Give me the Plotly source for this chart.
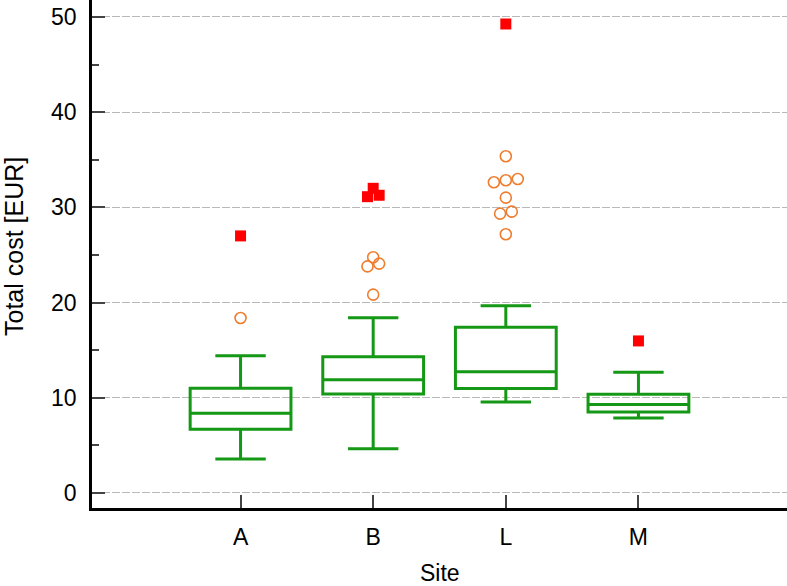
import plotly.graph_objects as go

sites = ["A", "B", "L", "M"]
q1 = [6.7, 10.4, 10.96, 8.51]
median = [8.37, 11.9, 12.74, 9.28]
q3 = [11.0, 14.32, 17.4, 10.36]
lower_whisker = [3.57, 4.65, 9.56, 7.88]
upper_whisker = [14.42, 18.41, 19.67, 12.68]

# outliers (orange open circles): site index, horizontal jitter, value
out_site = [0, 1, 1, 1, 1, 2, 2, 2, 2, 2, 2, 2, 2]
out_jitter = [0, 0, -0.043, 0.045, 0, 0, -0.09, 0, 0.09, 0, -0.043, 0.045, 0]
out_value = [18.38, 24.76, 23.8, 24.09, 20.83, 35.37, 32.64, 32.85, 32.98, 31.02, 29.34, 29.55, 27.17]

# far outliers (red squares)
far_site = [0, 1, 1, 1, 2, 3]
far_jitter = [0, 0, -0.043, 0.045, 0, 0]
far_value = [27.0, 32.0, 31.12, 31.27, 49.26, 15.97]

GREEN = "#159815"
FONT = "Liberation Sans, Arial, sans-serif"

fig = go.Figure()
fig.add_trace(go.Box(
    x=list(range(len(sites))),
    q1=q1, median=median, q3=q3,
    lowerfence=lower_whisker, upperfence=upper_whisker,
    width=0.76, whiskerwidth=0.5,
    line=dict(color=GREEN, width=3),
    fillcolor="rgba(0,0,0,0)",
    boxpoints=False, showlegend=False, hoverinfo="skip",
))
fig.add_trace(go.Scatter(
    x=[s + j for s, j in zip(out_site, out_jitter)], y=out_value,
    mode="markers",
    marker=dict(symbol="circle-open", size=11, color="#EF7D2E", line=dict(width=1.6)),
    showlegend=False,
))
fig.add_trace(go.Scatter(
    x=[s + j for s, j in zip(far_site, far_jitter)], y=far_value,
    mode="markers",
    marker=dict(symbol="square", size=11, color="#FF0000"),
    showlegend=False,
))

ph = 586 - 78
pw = 787 - 92

fig.update_layout(
    width=787, height=586,
    margin=dict(l=92, r=0, t=0, b=78),
    paper_bgcolor="white", plot_bgcolor="white",
    font=dict(family=FONT, size=23, color="black"),
    xaxis=dict(
        range=[-1.12, 4.12],
        tickvals=list(range(len(sites))), ticktext=sites,
        ticks="inside", ticklen=13, tickwidth=2, tickcolor="#444",
        showline=True, linecolor="black", linewidth=3,
        showgrid=False, zeroline=False,
        ticklabelstandoff=6,
    ),
    yaxis=dict(
        range=[-1.58, 51.78],
        tickvals=[0, 10, 20, 30, 40, 50],
        ticks="inside", ticklen=13, tickwidth=2, tickcolor="#444",
        minor=dict(ticks="inside", ticklen=7, tickwidth=2, tickcolor="#444",
                   tickvals=[5, 15, 25, 35, 45], showgrid=False),
        showline=True, linecolor="black", linewidth=2.5,
        showgrid=True, gridcolor="#b8b8b8", gridwidth=1, griddash="8px,2px",
        zeroline=False,
        ticklabelstandoff=8,
    ),
    annotations=[
        dict(text="Site", x=0.5, xref="paper", y=(508 - 573) / ph, yref="paper",
             yanchor="middle", showarrow=False, font=dict(size=23)),
        dict(text="Total cost [EUR]", textangle=-90,
             x=(14 - 92) / pw, xref="paper", y=(508 - 247) / ph, yref="paper",
             xanchor="center", yanchor="middle",
             showarrow=False, font=dict(size=25)),
    ],
)

fig.write_html("out.html")
